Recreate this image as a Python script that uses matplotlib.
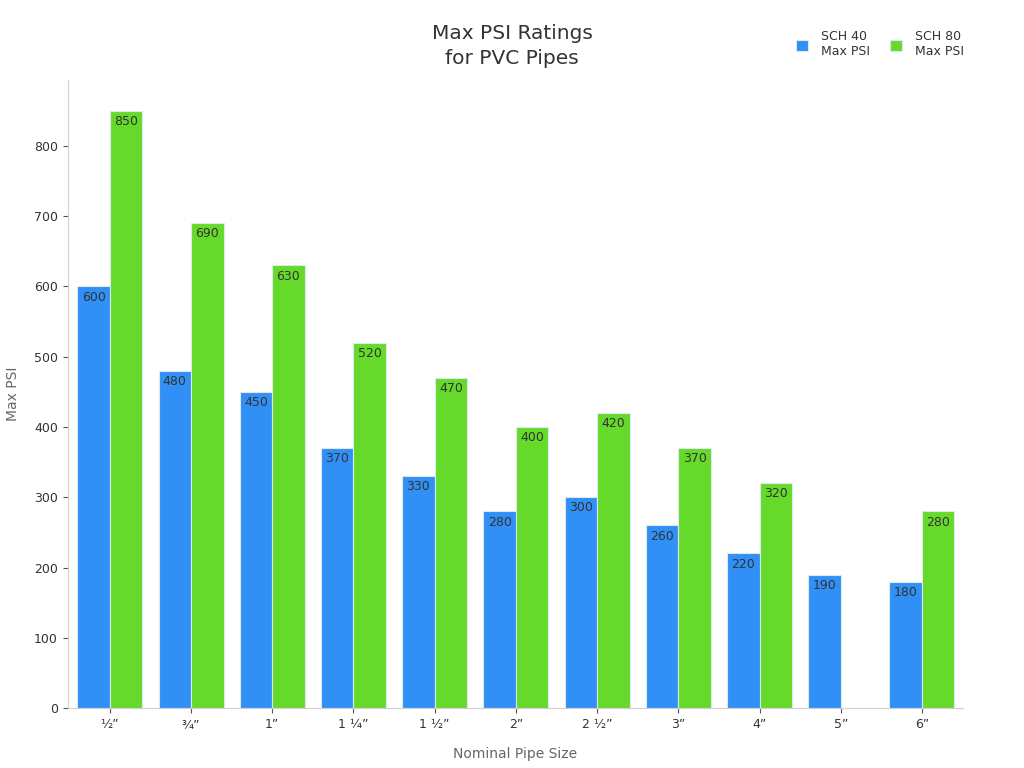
import matplotlib.pyplot as plt
import numpy as np

sizes = ['½”', '¾”', '1”', '1 ¼”', '1 ½”', '2”', '2 ½”', '3”', '4”', '5”', '6”']
sch40 = [600, 480, 450, 370, 330, 280, 300, 260, 220, 190, 180]
sch80 = [850, 690, 630, 520, 470, 400, 420, 370, 320, np.nan, 280]

blue = '#3090f5'
green = '#66da2a'

fig = plt.figure(figsize=(10.24, 7.68), dpi=100)
ax = fig.add_axes([0.066, 0.078, 0.874, 0.818])

x = np.arange(len(sizes))
w = 0.4
b1 = ax.bar(x - w / 2, sch40, w, color=blue, edgecolor='#dde8f0', linewidth=0.8, label='SCH 40\nMax PSI')
b2 = ax.bar(x + w / 2, sch80, w, color=green, edgecolor='#dde8f0', linewidth=0.8, label='SCH 80\nMax PSI')

for bars, vals in ((b1, sch40), (b2, sch80)):
    for rect, v in zip(bars, vals):
        if np.isnan(v):
            continue
        ax.annotate(str(int(v)), (rect.get_x() + rect.get_width() / 2, v),
                    textcoords='offset points', xytext=(0, -3),
                    ha='center', va='top', fontsize=9, color='#333333')

ax.set_xlim(-0.52, 10.5)
ax.set_ylim(0, 894)
ax.set_xticks(x)
ax.set_xticklabels(sizes, fontsize=9, color='#333333')
ax.set_yticks(range(0, 900, 100))
ax.tick_params(axis='y', labelsize=9, labelcolor='#333333', color='#555555')
ax.tick_params(axis='x', color='#555555')
for s in ('top', 'right'):
    ax.spines[s].set_visible(False)
for s in ('left', 'bottom'):
    ax.spines[s].set_color('#d0d0d0')

ax.set_xlabel('Nominal Pipe Size', fontsize=10, color='#666666', labelpad=12)
ax.set_ylabel('Max PSI', fontsize=10, color='#666666', labelpad=10)
fig.text(0.5, 0.94, 'Max PSI Ratings\nfor PVC Pipes', ha='center', va='center',
         fontsize=14.5, color='#333333', linespacing=1.35)

fig.legend(loc='upper right', bbox_to_anchor=(0.952, 0.975), ncol=2, frameon=False,
           fontsize=9, handlelength=1.0, handleheight=1.0, columnspacing=1.6,
           handletextpad=1.0, labelcolor='#333333')

plt.savefig('out.png', dpi=100)
